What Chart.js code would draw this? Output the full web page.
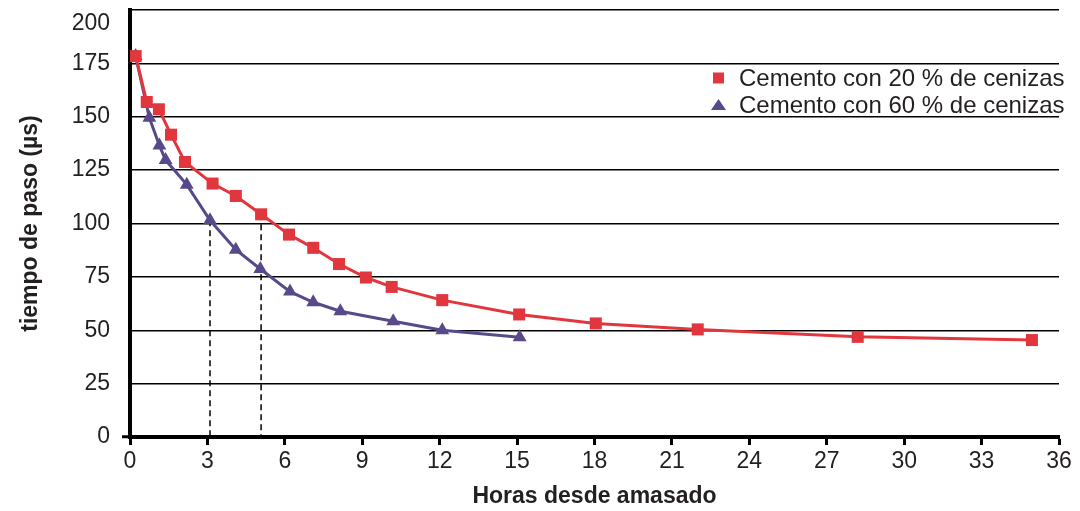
<!DOCTYPE html>
<html>
<head>
<meta charset="utf-8">
<title>Tiempo de paso vs horas desde amasado</title>
<script src="https://cdn.jsdelivr.net/npm/chart.js"></script>
<style>
  html, body { margin: 0; padding: 0; background: #fff; }
  #wrap { width: 1080px; height: 511px; }
</style>
</head>
<body>
<div id="wrap"><canvas id="pasoChart" width="1080" height="511"></canvas></div>
<script>
// Cemento con 20 % de cenizas
const horas20 = [0.22, 0.65, 1.12, 1.59, 2.13, 3.2, 4.1, 5.08, 6.16, 7.1, 8.1, 9.14, 10.14, 12.1, 15.08, 18.05, 22, 28.2, 34.95];
const tiempo20 = [178.4, 156.9, 153.5, 141.6, 128.8, 118.7, 112.9, 104.3, 94.8, 88.6, 81.0, 74.7, 70.3, 64.1, 57.4, 53.2, 50.4, 46.9, 45.4];

// Cemento con 60 % de cenizas
const horas60 = [0.22, 0.75, 1.14, 1.38, 2.2, 3.1, 4.1, 5.05, 6.2, 7.1, 8.15, 10.2, 12.1, 15.1];
const tiempo60 = [178.4, 149.5, 136.5, 129.7, 118.2, 101.5, 87.7, 78.7, 68.1, 63.1, 58.9, 54.2, 50.0, 46.7];

const labels = ['Cemento con 20 % de cenizas', 'Cemento con 60 % de cenizas'];
const xTicks = [0, 3, 6, 9, 12, 15, 18, 21, 24, 27, 30, 33, 36];
const yTicks = [0, 25, 50, 75, 100, 125, 150, 175, 200];

const red = '#e2363e';
const purple = '#584a8a';
const ink = '#231f20';
const FONT = '"Liberation Sans", Arial, Helvetica, sans-serif';

const toPoints = (xs, ys) => xs.map((x, i) => ({x: x, y: ys[i]}));

// dashed guides: blue at its 3 h point, red at its 5 h point
const guide3 = [{x: horas60[5], y: tiempo60[5]}, {x: horas60[5], y: 0}];
const guide5 = [{x: horas20[7], y: tiempo20[7]}, {x: horas20[7], y: 0}];

// legend drawn inside the plot, top right
const insideLegend = {
  id: 'insideLegend',
  afterDatasetsDraw(chart) {
    const ctx = chart.ctx;
    const rows = [
      {text: labels[0], color: red, shape: 'rect', y: 78},
      {text: labels[1], color: purple, shape: 'tri', y: 105}
    ];
    ctx.save();
    ctx.font = '24px ' + FONT;
    ctx.textBaseline = 'middle';
    ctx.textAlign = 'left';
    rows.forEach(r => {
      ctx.fillStyle = r.color;
      if (r.shape === 'rect') {
        ctx.fillRect(713, r.y - 5.5, 11, 11);
      } else {
        ctx.beginPath();
        ctx.moveTo(718.5, r.y - 6);
        ctx.lineTo(726, r.y + 5);
        ctx.lineTo(711, r.y + 5);
        ctx.closePath();
        ctx.fill();
      }
      ctx.fillStyle = ink;
      ctx.fillText(r.text, 739, r.y + 1);
    });
    ctx.restore();
  }
};

const guideStyle = {
  borderColor: '#000',
  borderWidth: 1.5,
  borderDash: [6, 4],
  pointRadius: 0,
  fill: false
};

new Chart(document.getElementById('pasoChart').getContext('2d'), {
  type: 'line',
  data: {
    datasets: [
      {
        label: labels[0],
        data: toPoints(horas20, tiempo20),
        borderColor: red,
        backgroundColor: red,
        borderWidth: 3,
        pointStyle: 'rect',
        pointRadius: 8.5,
        pointBorderWidth: 0,
        tension: 0
      },
      {
        label: labels[1],
        data: toPoints(horas60, tiempo60),
        borderColor: purple,
        backgroundColor: purple,
        borderWidth: 3,
        pointStyle: 'triangle',
        pointRadius: 8,
        pointBorderWidth: 0,
        tension: 0
      },
      Object.assign({label: 'g3', data: guide3}, guideStyle),
      Object.assign({label: 'g5', data: guide5}, guideStyle)
    ]
  },
  options: {
    responsive: false,
    animation: false,
    devicePixelRatio: 1,
    layout: { padding: {top: 10, right: 21, left: 0, bottom: 0} },
    plugins: {
      legend: { display: false },
      tooltip: { enabled: false }
    },
    scales: {
      x: {
        type: 'linear',
        min: 0,
        max: 36,
        afterBuildTicks: s => { s.ticks = xTicks.map(v => ({value: v})); },
        afterFit: s => {
          s.height = 74;
          s.paddingLeft = 0;
          s.paddingRight = 0;
        },
        border: { display: true, color: '#000', width: 4 },
        grid: {
          drawOnChartArea: false,
          drawTicks: true,
          tickLength: 8,
          tickColor: '#000',
          tickWidth: 3
        },
        ticks: {
          color: ink,
          padding: 3,
          maxRotation: 0,
          autoSkip: false,
          font: {family: FONT, size: 23}
        },
        title: {
          display: true,
          text: 'Horas desde amasado',
          color: ink,
          padding: {top: 0, bottom: 1},
          font: {family: FONT, size: 23, weight: 'bold'}
        }
      },
      y: {
        min: 0,
        max: 200,
        afterBuildTicks: s => { s.ticks = yTicks.map(v => ({value: v})); },
        afterFit: s => {
          s.width = 130;
          s.paddingTop = 0;
          s.paddingBottom = 0;
        },
        border: { display: true, color: '#000', width: 4 },
        grid: {
          color: '#000',
          lineWidth: 1.5,
          drawTicks: true,
          tickLength: 8,
          tickWidth: 3,
          tickColor: c => (c.tick && c.tick.value === 0) ? '#000' : 'rgba(0,0,0,0)'
        },
        ticks: {
          color: ink,
          padding: 12,
          autoSkip: false,
          font: {family: FONT, size: 23},
          // top label sits just under the top line
          callback: v => v === 200 ? ['', '200'] : String(v)
        },
        title: {
          display: true,
          text: 'tiempo de paso (µs)',
          color: ink,
          padding: {top: 17, bottom: 0},
          font: {family: FONT, size: 23, weight: 'bold'}
        }
      }
    }
  },
  plugins: [insideLegend]
});
</script>
</body>
</html>
